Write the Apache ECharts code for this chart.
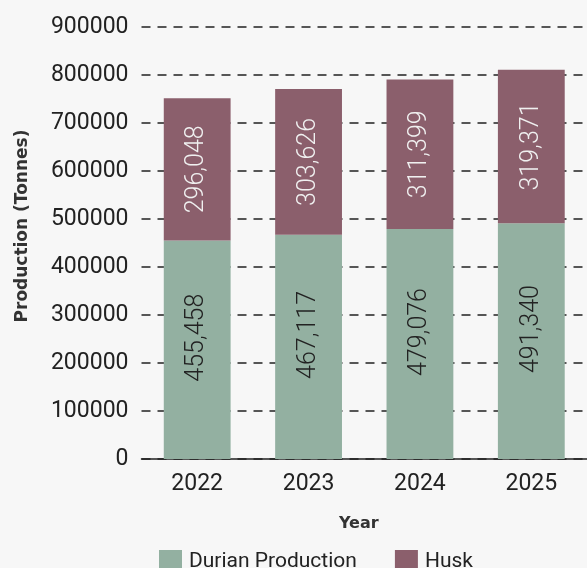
<!DOCTYPE html>
<html>
<head>
<meta charset="utf-8">
<script src="https://cdn.jsdelivr.net/npm/echarts@6/dist/echarts.min.js"></script>
<style>
html,body{margin:0;padding:0;background:#f7f7f7;}
#chart{width:587px;height:568px;}
</style>
</head>
<body>
<div id="chart"></div>
<script>
const years = ['2022', '2023', '2024', '2025'];
const durianProduction = [455458, 467117, 479076, 491340];
const husk = [296048, 303626, 311399, 319371];

const fmt = v => Number(v).toLocaleString('en-US');
const chart = echarts.init(document.getElementById('chart'), null, {renderer: 'canvas'});
chart.setOption({
  backgroundColor: '#f7f7f7',
  animation: false,
  grid: {left: 141.5, right: -6.5, top: 27, bottom: 109, containLabel: false},
  legend: {
    data: ['Durian Production', 'Husk'],
    left: 154, top: 545,
    itemWidth: 23, itemHeight: 23, itemGap: 38,
    icon: 'rect',
    textStyle: {fontFamily: 'Roboto', fontSize: 21, color: '#222', padding: [0, 0, 0, 2]}
  },
  xAxis: {
    type: 'category',
    data: years,
    name: 'Year',
    nameLocation: 'middle',
    nameGap: 57,
    nameTextStyle: {fontFamily: 'DejaVu Sans', fontWeight: 'bold', fontSize: 16, color: '#333', padding: [0, 11, 0, 0]},
    axisLine: {show: true, lineStyle: {color: '#222', width: 1.5}},
    axisTick: {show: false},
    axisLabel: {fontFamily: 'Roboto', fontSize: 23, color: '#222', margin: 14}
  },
  yAxis: {
    type: 'value',
    min: 0, max: 900000, interval: 100000,
    name: 'Production (Tonnes)',
    nameLocation: 'middle',
    nameGap: 110,
    nameTextStyle: {fontFamily: 'DejaVu Sans', fontWeight: 'bold', fontSize: 17, color: '#333', padding: [0, 0, 0, 34]},
    axisLine: {show: false},
    axisTick: {show: false},
    axisLabel: {fontFamily: 'Roboto', fontSize: 23, color: '#222', margin: 13, formatter: v => String(v)},
    splitLine: {show: true, lineStyle: {color: '#222', width: 1.5, type: [9, 7]}}
  },
  series: [
    {
      name: 'Durian Production', type: 'bar', stack: 'total', data: durianProduction,
      barWidth: '60%',
      itemStyle: {color: '#93b0a1'},
      label: {show: true, position: 'inside', rotate: 90, offset: [12, 0], formatter: p => fmt(p.value),
        fontFamily: 'Roboto', fontWeight: 300, fontSize: 25, color: '#222'}
    },
    {
      name: 'Husk', type: 'bar', stack: 'total', data: husk,
      barWidth: '60%',
      itemStyle: {color: '#8b5f6c'},
      label: {show: true, position: 'inside', rotate: 90, formatter: p => fmt(p.value),
        fontFamily: 'Roboto', fontWeight: 300, fontSize: 25, color: '#f0f0f0'}
    }
  ]
});
</script>
</body>
</html>
